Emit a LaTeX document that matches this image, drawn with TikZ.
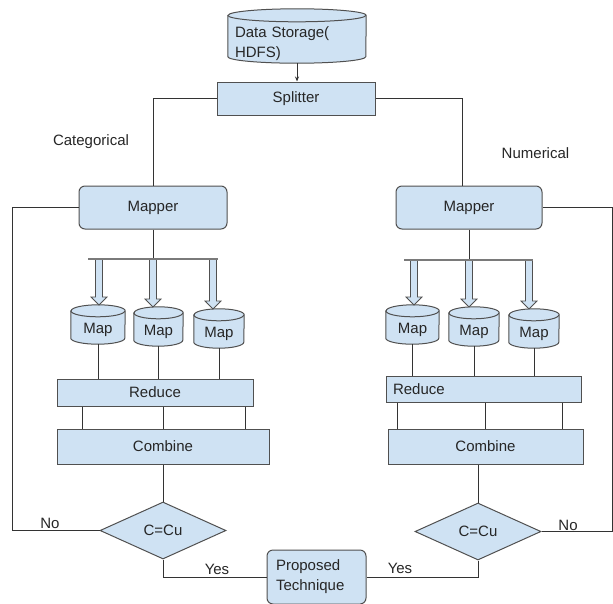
\documentclass[tikz,border=0pt]{standalone}
\usepackage{fontspec}
\setmainfont{Liberation Sans}
\usetikzlibrary{shapes.geometric,arrows.meta,backgrounds}
\definecolor{boxfill}{HTML}{CFE2F3}
\definecolor{boxline}{HTML}{505050}
\definecolor{wirec}{HTML}{333333}
\definecolor{barc}{HTML}{7A7A7A}
\newcommand{\blockarrow}[3]{\filldraw[barrow] (#1-3.5,#2) -- (#1+3.5,#2) -- (#1+3.5,#3-8) -- (#1+8,#3-8) -- (#1,#3) -- (#1-8,#3-8) -- (#1-3.5,#3-8) -- cycle;}
% cylinder drawn around a body node: #1 name, #2 half width, #3 ellipse half height
\newcommand{\drawcyl}[3]{%
  \filldraw[box] (#1.north west) -- ([yshift=#3pt]#1.south west)
    arc[start angle=180, end angle=360, x radius=#2pt, y radius=#3pt]
    -- (#1.north east)
    arc[start angle=0, end angle=180, x radius=#2pt, y radius=#3pt] -- cycle;
  \draw[box, fill=none] (#1.north west)
    arc[start angle=180, end angle=360, x radius=#2pt, y radius=#3pt];}
\begin{document}
\begin{tikzpicture}[x=1pt,y=-1pt,
  font=\fontsize{15}{20}\selectfont, text=black!85,
  box/.style={draw=boxline, fill=boxfill, line width=1pt, inner sep=0pt},
  rbox/.style={box, rounded corners=6pt},
  cylbody/.style={inner sep=0pt},
  mapcyl/.style={cylbody, minimum height=33pt, text height=16pt},
  dia/.style={box, diamond},
  wire/.style={draw=wirec, line width=0.8pt},
  bar/.style={draw=barc, line width=1.8pt},
  lab/.style={inner sep=0pt},
  barrow/.style={draw=boxline, fill=boxfill, line width=0.8pt, line join=miter}]
\useasboundingbox (0,0) rectangle (613,603);
% top
\node[cylbody, minimum width=138pt, minimum height=47.5pt, text width=124pt, align=left] (ds) at (297,39.25) {\rule{0pt}{19.5pt}Data Storage(\\HDFS)};
\node[box, minimum width=158pt, minimum height=33pt] (split) at (296,98.5) {Splitter};
\draw[wire, -{Stealth[length=5pt,width=4pt]}] (ds.south) -- (ds.south |- split.north);
% labels
\node[lab] (catlab) at (91,142) {Categorical};
\node[lab] (numlab) at (535.5,153) {Numerical};
% mappers
\node[rbox, minimum width=148pt, minimum height=43pt] (mapL) at (153,207.5) {Mapper};
\node[rbox, minimum width=146pt, minimum height=43pt] (mapR) at (469,207.5) {Mapper};
\draw[wire] (split.west) -| (mapL.north);
\draw[wire] (split.east) -| ([xshift=-7pt]mapR.north);
% map cylinders (body nodes)
\node[mapcyl, minimum width=54pt] (m1) at (98,327.5) {Map};
\node[mapcyl, minimum width=49pt] (m2) at (158.5,329.5) {Map};
\node[mapcyl, minimum width=50pt] (m3) at (219,331.5) {Map};
\node[mapcyl, minimum width=53pt] (r1) at (412.5,327.5) {Map};
\node[mapcyl, minimum width=50pt] (r2) at (474,329.5) {Map};
\node[mapcyl, minimum width=50pt] (r3) at (534,331.5) {Map};
\begin{scope}[on background layer]
\drawcyl{ds}{69}{6.5}
\drawcyl{m1}{27}{6}
\drawcyl{m2}{24.5}{6}
\drawcyl{m3}{25}{6}
\drawcyl{r1}{26.5}{6}
\drawcyl{r2}{25}{6}
\drawcyl{r3}{25}{6}
\end{scope}
% distribution bars and block arrows
\coordinate (barL1) at (88,259);
\coordinate (barL2) at (218,259);
\coordinate (barR1) at (404,260);
\coordinate (barR2) at (533,260);
\draw[wire] (mapL.south) -- (mapL.south |- barL1);
\draw[wire] (mapR.south) -- (mapR.south |- barR1);
\blockarrow{99}{259}{305}
\blockarrow{153}{259}{307}
\blockarrow{213}{259}{309}
\blockarrow{414}{260}{305}
\blockarrow{469}{260}{307}
\blockarrow{529}{260}{309}
\draw[bar] (barL1) -- (barL2);
\draw[bar] (barR1) -- (barR2);
% reduce
\node[box, minimum width=196pt, minimum height=27pt] (redL) at (155,392.5) {Reduce};
\node[box, minimum width=195pt, minimum height=26pt, text width=181pt, align=left] (redR) at (483.5,389) {Reduce};
\foreach \m in {m1,m2,m3} \draw[wire] (\m.south) -- (\m.south |- redL.north);
\foreach \m in {r1,r2,r3} \draw[wire] (\m.south) -- (\m.south |- redR.north);
% combine
\node[box, minimum width=212pt, minimum height=35pt] (combL) at (163,446.5) {Combine};
\node[box, minimum width=195pt, minimum height=35pt] (combR) at (485.5,446.5) {Combine};
\draw[wire] ([xshift=-73pt]redL.south) -- ([xshift=-81pt]combL.north);
\draw[wire] ([xshift=8pt]redL.south) -- ([xshift=0pt]combL.north);
\draw[wire] ([xshift=90pt]redL.south) -- ([xshift=82pt]combL.north);
\draw[wire] ([xshift=-86.5pt]redR.south) -- ([xshift=-88.5pt]combR.north);
\draw[wire] ([xshift=1.5pt]redR.south) -- ([xshift=-0.5pt]combR.north);
\draw[wire] ([xshift=78.5pt]redR.south) -- ([xshift=76.5pt]combR.north);
% decisions
\node[dia, minimum width=126pt, minimum height=57pt] (diaL) at (163,530.5) {C=Cu};
\node[dia, minimum width=126pt, minimum height=57pt] (diaR) at (478,531.5) {C=Cu};
\draw[wire] (combL.south) -- (diaL.north);
\draw[wire] (diaR.north |- combR.south) -- (diaR.north);
% proposed
\node[rbox, minimum width=99pt, minimum height=54pt, text width=81pt, align=left] (prop) at (316.5,577) {Proposed\\Technique};
\draw[wire] (diaL.south) |- (prop.west);
\draw[wire] (diaR.south) |- (prop.east);
% loops
\draw[wire] (diaL.west) -- ++(-87,0) |- (mapL.west);
\draw[wire] (diaR.east) -- ++(71,0) |- (mapR.east);
\node[lab] (noL) at (50,523) {No};
\node[lab] (noR) at (568,525) {No};
\node[lab] (yesL) at (217,569) {Yes};
\node[lab] (yesR) at (400,568) {Yes};
\end{tikzpicture}
\end{document}
